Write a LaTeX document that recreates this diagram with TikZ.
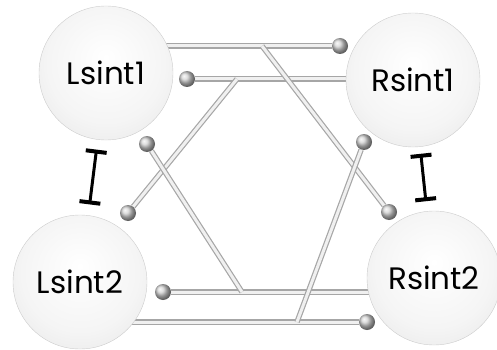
\documentclass[tikz,border=0pt]{standalone}
\usepackage{fontspec}
\setsansfont{Poppins}
\usetikzlibrary{arrows.meta,backgrounds}
\pgfdeclareradialshading{sitefill}{\pgfpoint{0bp}{6bp}}{color(0bp)=(white); color(22bp)=(gray!8); color(50bp)=(gray!30)}
\tikzset{
    site/.style={circle,minimum size=134pt,inner sep=0pt,draw=gray!40,line width=.4pt,shading=sitefill,font=\sffamily\fontsize{31}{31}\selectfont},
    pin/.style={circle,minimum size=16pt,inner sep=0pt,shading=ball,ball color=gray!35},
    tube/.style={draw=gray!70,line width=1.2pt,double=gray!12,double distance=3pt},
    block/.style={line width=3pt,{Bar[width=21pt,line width=4pt 0]}-{Bar[width=21pt,line width=4pt 0]}},
}
\begin{document}
\begin{tikzpicture}[x=1pt,y=-1pt]
            \useasboundingbox (0,0) rectangle (497,350);
            \node[site] (L1) at (106,73) {Lsint1};
            \node[site] (R1) at (413,80) {Rsint1};
            \node[site] (L2) at (80,282) {Lsint2};
            \node[site] (R2) at (434,278) {Rsint2};
            % pins
            \node[pin] (r1a) at (340,46) {};
            \node[pin] (l1a) at (187,79) {};
            \node[pin] (l1b) at (147,144) {};
            \node[pin] (r1b) at (364,142) {};
            \node[pin] (l2a) at (128,213) {};
            \node[pin] (l2b) at (163,292) {};
            \node[pin] (r2a) at (389,212) {};
            \node[pin] (r2b) at (367,322) {};
            % branch points on the bars
            \coordinate (kA) at (262,46);
            \coordinate (kB) at (237,79);
            \coordinate (kC) at (242,292);
            \coordinate (kD) at (297,322);
            \begin{pgfonlayer}{background}
                \draw[tube](r1a -| L1)--(r1a);
                \draw[tube](l1a)--(l1a -| R1);
                \draw[tube](l2b)--(l2b -| R2);
                \draw[tube](r2b -| L2)--(r2b);
                \draw[tube](kA)--(r2a);
                \draw[tube](kB)--(l2a);
                \draw[tube](l1b)--(kC);
                \draw[tube](r1b)--(kD);
            \end{pgfonlayer}
            \draw[block,shorten <=10pt,shorten >=11pt](L1)--(L2);
            \draw[block,shorten <=7pt,shorten >=10pt](R1)--(R2);
\end{tikzpicture}
\end{document}
